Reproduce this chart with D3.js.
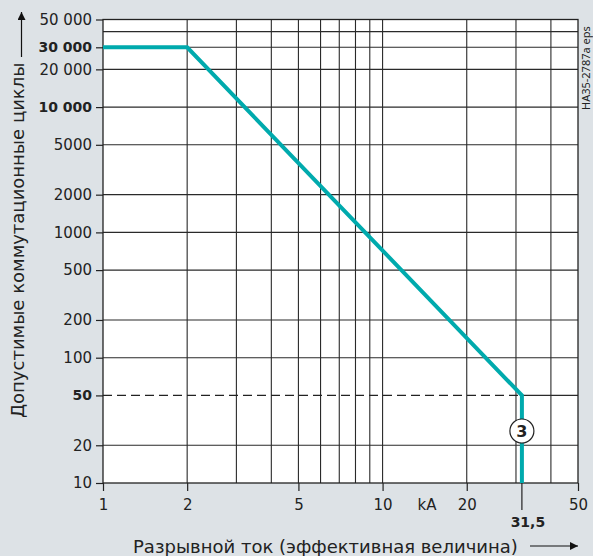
<!DOCTYPE html>
<html>
<head>
<meta charset="utf-8">
<script src="https://cdn.jsdelivr.net/npm/d3@7"></script>
<style>
  body { margin: 0; background: #dde2e6; }
  svg { display: block; font-family: "DejaVu Sans", sans-serif; }
</style>
</head>
<body>
<svg id="chart" width="593" height="556"></svg>
<script>
// breaking current (kA) vs permissible switching cycles
const currentKA = [1, 2, 31.5, 31.5]
const cycles = [30000, 30000, 50, 10]

const xTicks = [1, 2, 5, 10, 20, 50]
const xGrid = [2, 3, 4, 5, 6, 7, 8, 9, 10, 20, 30, 40]
const yTicks = [10, 20, 50, 100, 200, 500, 1000, 2000, 5000, 10000, 20000, 30000, 50000]
const yBold = [50, 10000, 30000]
const yGrid = [20, 50, 100, 200, 500, 1000, 2000, 5000, 10000, 20000, 30000, 40000]

const ratedCurrent = 31.5
const ratedCycles = 50

const svg = d3.select("#chart")
const m = {left: 103, right: 578, top: 19.5, bottom: 483}

const x = d3.scaleLog().domain([1, 50]).range([m.left, m.right])
const y = d3.scaleLog().domain([10, 50000]).range([m.bottom, m.top])

const fmt = (v) => v >= 10000 ? d3.format(",")(v).replace(",", " ") : String(v)

// plot background
svg.append("rect")
  .attr("x", m.left).attr("y", m.top)
  .attr("width", m.right - m.left).attr("height", m.bottom - m.top)
  .attr("fill", "#fff")

// grid
svg.append("g").selectAll("line")
  .data(xGrid)
  .join("line")
    .attr("x1", (d) => x(d)).attr("x2", (d) => x(d))
    .attr("y1", m.top).attr("y2", m.bottom)
    .attr("stroke", "#2a2a2a").attr("stroke-width", 1.1)

svg.append("g").selectAll("line")
  .data(yGrid.filter((d) => d !== ratedCycles))
  .join("line")
    .attr("x1", m.left).attr("x2", m.right)
    .attr("y1", (d) => y(d)).attr("y2", (d) => y(d))
    .attr("stroke", "#2a2a2a").attr("stroke-width", 1.1)

// the 50-cycle line: solid beyond rated current, dashed before
svg.append("line")
  .attr("x1", x(ratedCurrent)).attr("x2", m.right)
  .attr("y1", y(ratedCycles)).attr("y2", y(ratedCycles))
  .attr("stroke", "#2a2a2a").attr("stroke-width", 1.1)
svg.append("line")
  .attr("x1", m.left).attr("x2", x(ratedCurrent))
  .attr("y1", y(ratedCycles)).attr("y2", y(ratedCycles))
  .attr("stroke", "#222").attr("stroke-width", 1.1)
  .attr("stroke-dasharray", "9,5")

// frame
svg.append("rect")
  .attr("x", m.left).attr("y", m.top)
  .attr("width", m.right - m.left).attr("height", m.bottom - m.top)
  .attr("fill", "none").attr("stroke", "#222").attr("stroke-width", 1.3)

// curve
svg.append("path")
  .attr("d", d3.line().x((d) => x(d[0])).y((d) => y(d[1]))(currentKA.map((c, i) => [c, cycles[i]])))
  .attr("fill", "none")
  .attr("stroke", "#00aaad")
  .attr("stroke-width", 4)
  .attr("stroke-linejoin", "miter")

// marker "3"
const mk = svg.append("g").attr("transform", `translate(${x(ratedCurrent)},${y(26)})`)
mk.append("circle").attr("r", 12).attr("fill", "#fff").attr("stroke", "#222").attr("stroke-width", 1.2)
mk.append("text").attr("text-anchor", "middle").attr("dy", "0.37em")
  .attr("font-size", 16).attr("font-weight", "bold").attr("fill", "#222").text("3")

// y axis
const yAxis = svg.append("g").attr("transform", `translate(${m.left},0)`)
  .call(d3.axisLeft(y).tickValues(yTicks).tickFormat(fmt).tickSize(7).tickPadding(4))
yAxis.select(".domain").remove()
yAxis.selectAll("line").attr("stroke", "#222").attr("stroke-width", 1.2)
yAxis.selectAll("text")
  .attr("fill", "#222")
  .attr("font-family", "DejaVu Sans, sans-serif")
  .attr("font-size", (d) => yBold.includes(d) ? 14 : 15)
  .attr("font-weight", (d) => yBold.includes(d) ? "bold" : "normal")

// x axis
const xAxis = svg.append("g").attr("transform", `translate(0,${m.bottom})`)
  .call(d3.axisBottom(x).tickValues(xTicks).tickFormat(d3.format("d")).tickSize(8).tickPadding(8))
xAxis.select(".domain").remove()
xAxis.selectAll("line").attr("stroke", "#222").attr("stroke-width", 1.2)
xAxis.selectAll("text").attr("font-size", 15).attr("fill", "#222").attr("font-family", "DejaVu Sans, sans-serif")

svg.append("line")
  .attr("x1", x(ratedCurrent)).attr("x2", x(ratedCurrent))
  .attr("y1", m.bottom).attr("y2", m.bottom + 27)
  .attr("stroke", "#222").attr("stroke-width", 1.2)
svg.append("text")
  .attr("x", x(ratedCurrent) + 6).attr("y", 527)
  .attr("text-anchor", "middle")
  .attr("font-size", 14).attr("font-weight", "bold").attr("fill", "#222")
  .text("31,5")
svg.append("text")
  .attr("x", 427).attr("y", 510)
  .attr("text-anchor", "middle")
  .attr("font-size", 15).attr("fill", "#222")
  .text("kA")

// arrow marker
svg.append("defs").append("marker")
  .attr("id", "arrow")
  .attr("viewBox", "0 0 10 10")
  .attr("refX", 10).attr("refY", 5)
  .attr("markerWidth", 17).attr("markerHeight", 8)
  .attr("markerUnits", "userSpaceOnUse")
  .attr("orient", "auto")
  .append("path").attr("d", "M0,0L10,5L0,10Z").attr("fill", "#111")

// axis titles
svg.append("text")
  .attr("x", 133).attr("y", 553)
  .attr("font-size", 18).attr("fill", "#222")
  .text("Разрывной ток (эффективная величина)")
svg.append("line")
  .attr("x1", 530).attr("x2", 578).attr("y1", 546).attr("y2", 546)
  .attr("stroke", "#111").attr("stroke-width", 1.2)
  .attr("marker-end", "url(#arrow)")

svg.append("text")
  .attr("transform", "translate(24,418) rotate(-90)")
  .attr("font-size", 18).attr("fill", "#222")
  .text("Допустимые коммутационные циклы")
svg.append("line")
  .attr("x1", 21.5).attr("x2", 21.5).attr("y1", 57).attr("y2", 12)
  .attr("stroke", "#111").attr("stroke-width", 1.2)
  .attr("marker-end", "url(#arrow)")

// file tag
svg.append("text")
  .attr("transform", "translate(590,110) rotate(-90)")
  .attr("font-size", 11).attr("fill", "#222")
  .attr("font-family", "Noto Sans, sans-serif")
  .text("HA35-2787a eps")
</script>
</body>
</html>
